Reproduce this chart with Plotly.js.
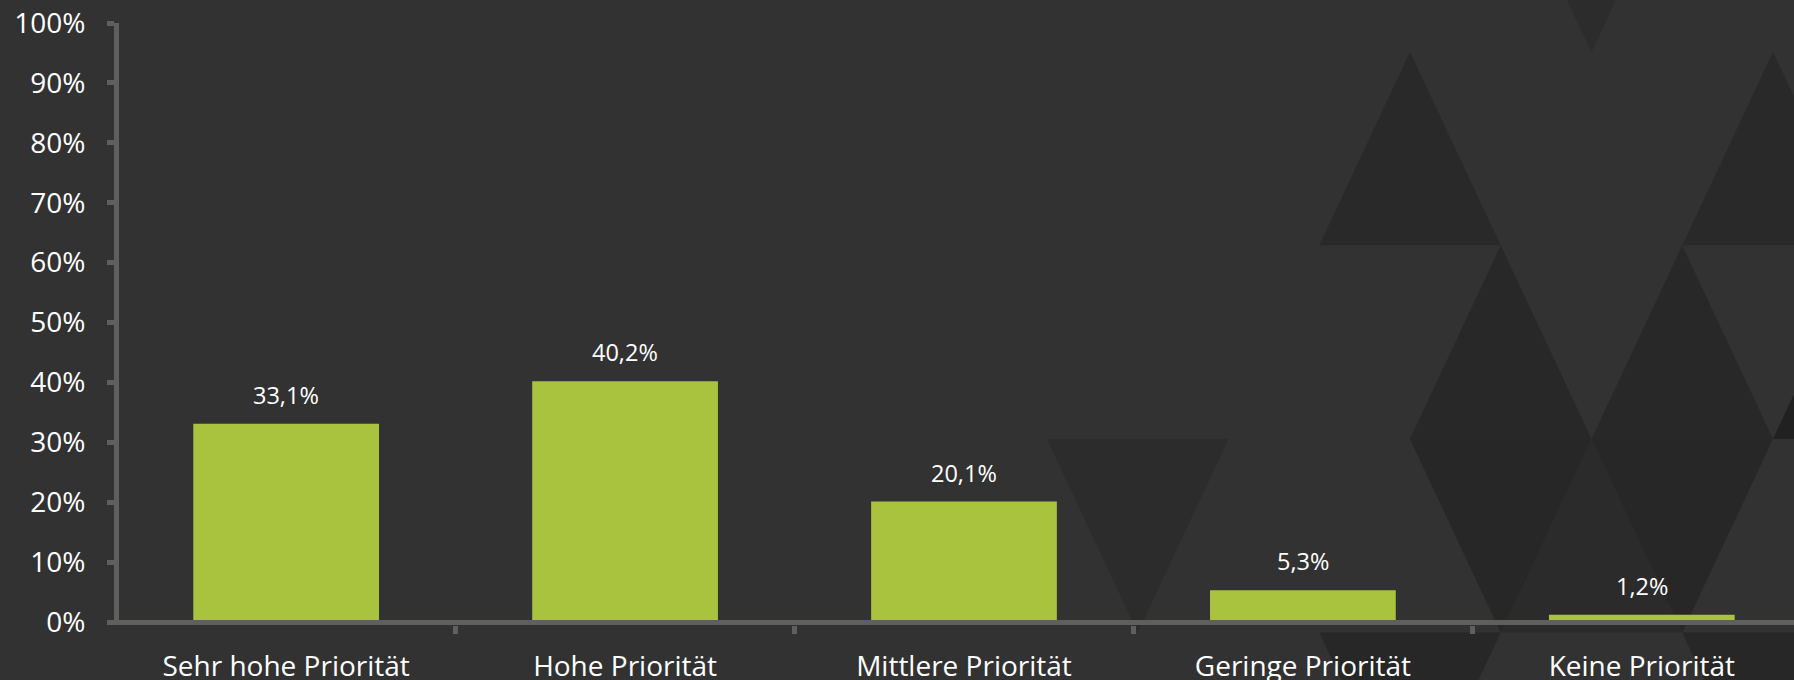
<!DOCTYPE html>
<html><head><meta charset="utf-8">
<script src="https://cdn.plot.ly/plotly-3.0.1.min.js"></script>
<style>
html,body{margin:0;padding:0;background:#323232;width:1794px;height:680px;overflow:hidden}
#bg{position:absolute;left:0;top:0}
#chart{position:absolute;left:0;top:0;width:1794px;height:680px}
</style></head><body>
<svg id="bg" width="1794" height="680" xmlns="http://www.w3.org/2000/svg"></svg>
<div id="chart"></div>
<script>
// ---- data ----
const categories = ["Sehr hohe Priorität", "Hohe Priorität", "Mittlere Priorität", "Geringe Priorität", "Keine Priorität"];
const shares = [33.1, 40.2, 20.1, 5.3, 1.2];
const yTickValues = [0, 10, 20, 30, 40, 50, 60, 70, 80, 90, 100];
const yTickLabels = ["0%", "10%", "20%", "30%", "40%", "50%", "60%", "70%", "80%", "90%", "100%"];
const shareLabels = shares.map(v => v.toFixed(1).replace('.', ',') + '%');

// ---- decorative background triangles (not data) ----
const HALF = 90.75, ROW = 193.5, X0 = 1410, Y0 = 52;
function P(c, r) { return [X0 + c * HALF, Y0 + r * ROW]; }
const bgTriangles = [
  ['down', 2, 0, '#2b2c2b'],
  ['up', 0, 0, '#282928'],
  ['up', 4, 0, '#282928'],
  ['up', 1, 1, '#272827'],
  ['up', 3, 1, '#272827'],
  ['up', 5, 1, '#202120'],
  ['down', -3, 3, '#2b2c2b'],
  ['down', 1, 3, '#262726'],
  ['down', 3, 3, '#262726'],
  ['up', 2, 2, '#2a2b2a'],
  ['down', 0, 4, '#262726'],
  ['down', 4, 4, '#262726']
];
const svg = document.getElementById('bg');
bgTriangles.forEach(t => {
  const [kind, c, r, fill] = t;
  const d = kind === 'up' ? 1 : -1;
  const pts = [P(c, r), P(c - 1, r + d), P(c + 1, r + d)];
  const poly = document.createElementNS('http://www.w3.org/2000/svg', 'polygon');
  poly.setAttribute('points', pts.map(p => p.join(',')).join(' '));
  poly.setAttribute('fill', fill);
  svg.appendChild(poly);
});

// ---- chart ----
const axisGray = '#5f605e';
const trace = {
  type: 'bar',
  x: categories,
  y: shares,
  marker: {color: '#a9c33f', line: {width: 0}},
  hoverinfo: 'skip'
};
const annotations = categories.map((c, i) => ({
  x: c, y: shares[i], text: shareLabels[i],
  showarrow: false, xanchor: 'center', yanchor: 'bottom', yshift: 11,
  font: {family: '"Open Sans", sans-serif', size: 23.5, color: '#ffffff'}
}));
const layout = {
  width: 1794, height: 680,
  paper_bgcolor: 'rgba(0,0,0,0)', plot_bgcolor: 'rgba(0,0,0,0)',
  margin: {l: 119, r: 0, t: 23, b: 55, pad: 0},
  showlegend: false,
  bargap: 0.452,
  font: {family: '"Open Sans", sans-serif', color: '#ffffff'},
  xaxis: {
    type: 'category', range: [-0.4932, 4.449],
    showline: false, showgrid: false, zeroline: false,
    ticks: 'outside', tickson: 'boundaries', ticklen: 8, tickwidth: 5, tickcolor: axisGray,
    ticklabelstandoff: 22,
    tickfont: {size: 28, color: '#ffffff'}, fixedrange: true
  },
  yaxis: {
    range: [-0.5, 100], tickmode: 'array', tickvals: yTickValues, ticktext: yTickLabels,
    showline: true, linewidth: 5, linecolor: axisGray,
    ticks: 'outside', ticklen: 7, tickwidth: 5, tickcolor: axisGray,
    ticklabelstandoff: 16,
    showgrid: false, zeroline: true, zerolinewidth: 5, zerolinecolor: axisGray,
    layer: 'above traces', zerolinelayer: 'above traces',
    tickfont: {size: 28, color: '#ffffff'}, fixedrange: true
  },
  annotations: annotations
};
Plotly.newPlot('chart', [trace], layout, {displayModeBar: false, staticPlot: true});
</script>
</body></html>
